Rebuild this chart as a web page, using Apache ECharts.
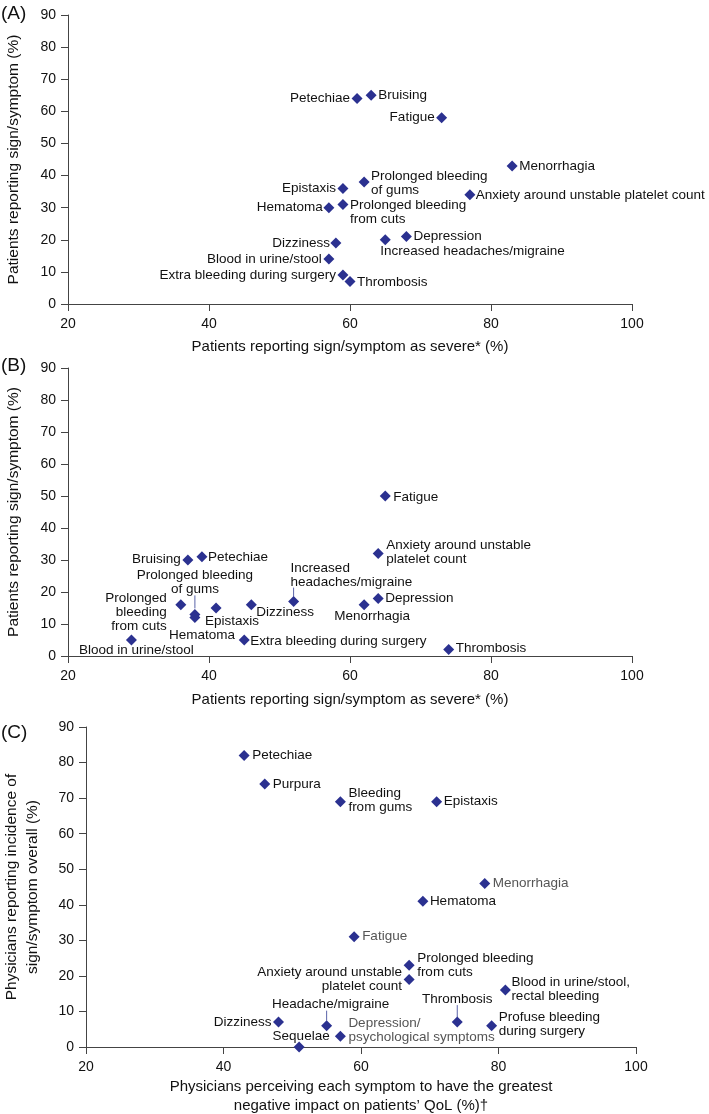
<!DOCTYPE html>
<html>
<head>
<meta charset="utf-8">
<script src="https://cdn.jsdelivr.net/npm/echarts/dist/echarts.min.js"></script>
<style>
  html, body { margin: 0; padding: 0; background: #fff; }
  #chart { width: 709px; height: 1114px; }
</style>
</head>
<body>
<div id="chart"></div>
<script>
// panel A: patients, overall
const namesA = ['Petechiae', 'Bruising', 'Fatigue', 'Menorrhagia', 'Prolonged bleeding\nof gums',
  'Anxiety around unstable platelet count', 'Epistaxis', 'Hematoma', 'Prolonged bleeding\nfrom cuts',
  'Dizziness', 'Blood in urine/stool', 'Extra bleeding during surgery', 'Thrombosis',
  'Increased headaches/migraine', 'Depression'];
const severeA = [61, 63, 73, 83, 62, 77, 59, 57, 59, 58, 57, 59, 60, 65, 68];
const reportA = [64, 65, 58, 43, 38, 34, 36, 30, 31, 19, 14, 9, 7, 20, 21];

// panel B: patients, other group
const namesB = ['Bruising', 'Petechiae', 'Prolonged\nbleeding\nfrom cuts', 'Prolonged bleeding\nof gums',
  'Hematoma', 'Epistaxis', 'Dizziness', 'Increased\nheadaches/migraine', 'Blood in urine/stool',
  'Extra bleeding during surgery', 'Fatigue', 'Anxiety around unstable\nplatelet count',
  'Depression', 'Menorrhagia', 'Thrombosis'];
const severeB = [37, 39, 36, 38, 38, 41, 46, 52, 29, 45, 65, 64, 64, 62, 74];
const reportB = [30, 31, 16, 13, 12, 15, 16, 17, 5, 5, 50, 32, 18, 16, 2];

// panel C: physicians
const namesC = ['Petechiae', 'Purpura', 'Bleeding\nfrom gums', 'Epistaxis', 'Menorrhagia', 'Hematoma',
  'Fatigue', 'Prolonged bleeding\nfrom cuts', 'Anxiety around unstable\nplatelet count',
  'Blood in urine/stool,\nrectal bleeding', 'Thrombosis', 'Profuse bleeding\nduring surgery',
  'Dizziness', 'Headache/migraine', 'Depression/\npsychological symptoms', 'Sequelae'];
const impactC = [43, 46, 57, 71, 78, 69, 59, 67, 67, 81, 74, 79, 48, 55, 57, 51];
const incidenceC = [82, 74, 69, 69, 46, 41, 31, 23, 19, 16, 7, 6, 7, 6, 3, 0];

const xTicks = { min: 20, max: 100, interval: 20 };
const yTicks = { min: 0, max: 90, interval: 10 };

// label placement: [align, dx, dy, colour] relative to the marker centre
const labelsA = [['right', -7, 0], ['left', 7, 0], ['right', -7, 0], ['left', 7, 0], ['left', 7, 1],
  ['left', 6, 0], ['right', -7, 0], ['right', -6, 0], ['left', 7, 8], ['right', -6, 0],
  ['right', -7, 0], ['right', -7, 0], ['left', 7, 1], ['left', -5, 12], ['left', 7, 0]];
const labelsB = [['right', -7, -1], ['left', 6, 0], ['right', -14, 7], ['center', 0, -32],
  ['center', 7, 18], ['center', 16, 13], ['left', 5, 7], ['left', -3, -26], ['center', 5, 10],
  ['left', 6, 1], ['left', 8, 1], ['left', 8, -1], ['left', 7, 0], ['center', 8, 11], ['left', 7, -1]];
const grey = '#555';
const labelsC = [['left', 8, 0], ['left', 8, 0], ['left', 8, -1], ['left', 7, 0], ['left', 8, 0, grey],
  ['left', 7, 0], ['left', 8, 0, grey], ['left', 8, 0], ['right', -7, 0], ['left', 6, -1],
  ['center', 0, -23], ['left', 7, -1], ['right', -7, 0], ['center', 4, -21], ['left', 8, -6, grey],
  ['center', 2, -11]];

// leader lines: [panel, point index, from dy, to dy]
const leaders = [[1, 3, -19, -6], [1, 7, -14, -5], [2, 13, -15, -5], [2, 10, -17, -5]];

const font = "'Liberation Sans', Arial, sans-serif";
const ink = '#111';
const axisColor = '#444';

const grids = [
  { left: 68, top: 15, width: 564, height: 289, containLabel: false, outerBoundsMode: 'none' },
  { left: 68, top: 368, width: 564, height: 288, containLabel: false, outerBoundsMode: 'none' },
  { left: 86, top: 727, width: 550, height: 320, containLabel: false, outerBoundsMode: 'none' }
];

function xAxisFor(idx, name, gap) {
  return Object.assign({
    type: 'value', gridIndex: idx, name: name, nameLocation: 'middle', nameGap: gap,
    nameTextStyle: { fontSize: 15, color: ink, fontFamily: font, lineHeight: 19 },
    axisLine: { lineStyle: { color: axisColor, width: 1 } },
    axisTick: { length: 7, lineStyle: { color: axisColor } },
    axisLabel: { fontSize: 14, color: ink, fontFamily: font, margin: 13 },
    splitLine: { show: false }
  }, xTicks);
}

function yAxisFor(idx, name, gap) {
  return Object.assign({
    type: 'value', gridIndex: idx, name: name, nameLocation: 'middle', nameGap: gap,
    nameTextStyle: { fontSize: 15.5, color: ink, fontFamily: font, lineHeight: 21 },
    axisLine: { show: true, lineStyle: { color: axisColor, width: 1 } },
    axisTick: { show: true, length: 7, lineStyle: { color: axisColor } },
    axisLabel: { fontSize: 14, color: ink, fontFamily: font, margin: 12 },
    splitLine: { show: false }
  }, yTicks);
}

function makeSeries(idx, names, xs, ys, specs) {
  return {
    type: 'scatter', xAxisIndex: idx, yAxisIndex: idx,
    symbol: 'diamond', symbolSize: 11,
    itemStyle: { color: '#2b3190', opacity: 1 },
    label: { show: true, formatter: '{b}', fontSize: 13.5, lineHeight: 14, fontFamily: font,
      verticalAlign: 'middle', textBorderWidth: 0 },
    emphasis: { disabled: true },
    data: xs.map((x, i) => ({
      value: [x, ys[i]], name: names[i],
      label: { position: 'inside', align: specs[i][0], offset: [specs[i][1], specs[i][2]], color: specs[i][3] || ink }
    }))
  };
}

const chart = echarts.init(document.getElementById('chart'));
const option = {
  animation: false,
  grid: grids,
  xAxis: [
    xAxisFor(0, 'Patients reporting sign/symptom as severe* (%)', 33),
    xAxisFor(1, 'Patients reporting sign/symptom as severe* (%)', 34),
    xAxisFor(2, 'Physicians perceiving each symptom to have the greatest\nnegative impact on patients\u2019 QoL (%)\u2020', 30)
  ],
  yAxis: [
    yAxisFor(0, 'Patients reporting sign/symptom (%)', 44),
    yAxisFor(1, 'Patients reporting sign/symptom (%)', 44),
    yAxisFor(2, 'Physicians reporting incidence of\nsign/symptom overall (%)', 43)
  ],
  series: [
    makeSeries(0, namesA, severeA, reportA, labelsA),
    makeSeries(1, namesB, severeB, reportB, labelsB),
    makeSeries(2, namesC, impactC, incidenceC, labelsC)
  ]
};
chart.setOption(option);

// panel letters and leader lines
const sets = [[severeA, reportA], [severeB, reportB], [impactC, incidenceC]];
const graphics = [
  { type: 'text', left: 1, top: 4, style: { text: '(A)', fontSize: 19, fill: ink, fontFamily: font } },
  { type: 'text', left: 1, top: 356, style: { text: '(B)', fontSize: 19, fill: ink, fontFamily: font } },
  { type: 'text', left: 1, top: 723, style: { text: '(C)', fontSize: 19, fill: ink, fontFamily: font } }
];
leaders.forEach(function (l) {
  const p = chart.convertToPixel({ gridIndex: l[0] }, [sets[l[0]][0][l[1]], sets[l[0]][1][l[1]]]);
  graphics.push({
    type: 'line', shape: { x1: p[0], y1: p[1] + l[2], x2: p[0], y2: p[1] + l[3] },
    style: { stroke: '#5a63a8', lineWidth: 1 }, z: 1
  });
});
chart.setOption({ graphic: graphics });
</script>
</body>
</html>
